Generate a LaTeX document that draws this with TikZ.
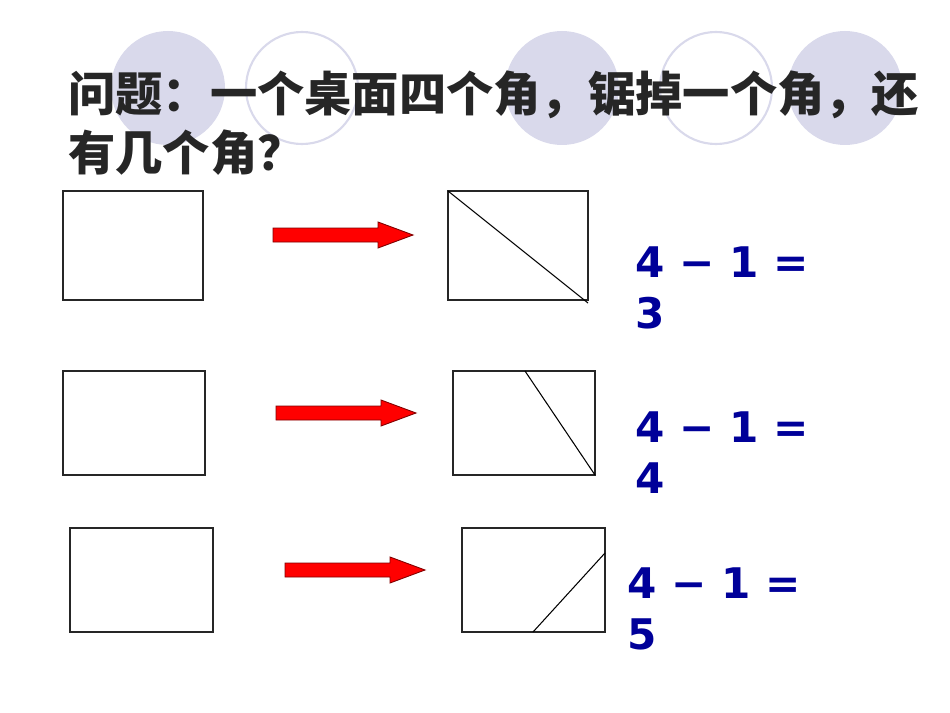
\documentclass[tikz,border=0pt]{standalone}
\usepackage{fontspec}
\newfontfamily\cjk{Noto Sans CJK SC}
\newfontfamily\eqfont{DejaVu Sans}
\usepackage{tikz}
\definecolor{lavender}{RGB}{217,217,235}
\definecolor{eqblue}{RGB}{0,0,153}
\tikzset{
  x=0.02cm, y=-0.02cm,
  box/.style={line width=0.6pt, draw=black!85},
  cut/.style={line width=0.6pt},
  redarrow/.style={fill=red, draw=red!50!black, line width=0.5pt},
}
\tikzstyle{title}=[font=\cjk\bfseries\fontsize{26.9}{33}\selectfont, text=black!85, anchor=west, inner sep=0pt]
\tikzstyle{equation}=[font=\eqfont\bfseries\fontsize{24}{29}\selectfont, text=eqblue, align=left, anchor=west, inner sep=0pt]
\newcommand{\blockarrow}[2]{%
  \draw[redarrow] (#1,#2-7) -- ++(105,0) -- ++(0,-6) -- ++(35,13) -- ++(-35,13) -- ++(0,-6) -- ++(-105,0) -- cycle;}

\begin{document}
\begin{tikzpicture}
    \useasboundingbox (0,0) rectangle (950,713);
    % circles behind the title
    \foreach \cx in {168,562,845} \fill[lavender] (\cx,88) circle[radius=57];
    \foreach \cx in {302,716} \draw[lavender, line width=1.2pt] (\cx,88) circle[radius=56];
    \node[title] (q1) at (68,95) {问题：一个桌面四个角，锯掉一个角，还};
    \node[title] (q2) at (68,153) {有几个角？};
    % row 1
    \draw[box] (63,191) rectangle (203,300);
    \blockarrow{273}{235}
    \draw[box] (448,191) rectangle (588,300);
    \draw[cut] (448,191) -- (588,303);
    \node[equation] (eq1) at (635,288) {4 − 1 =\\3};
    % row 2
    \draw[box] (63,371) rectangle (205,475);
    \blockarrow{276}{413}
    \draw[box] (453,371) rectangle (595,475);
    \draw[cut] (525,371) -- (595,475);
    \node[equation] (eq2) at (635,453) {4 − 1 =\\4};
    % row 3
    \draw[box] (70,528) rectangle (213,632);
    \blockarrow{285}{570}
    \draw[box] (462,528) rectangle (605,632);
    \draw[cut] (605,553) -- (533,632);
    \node[equation] (eq3) at (627,609) {4 − 1 =\\5};
\end{tikzpicture}
\end{document}
